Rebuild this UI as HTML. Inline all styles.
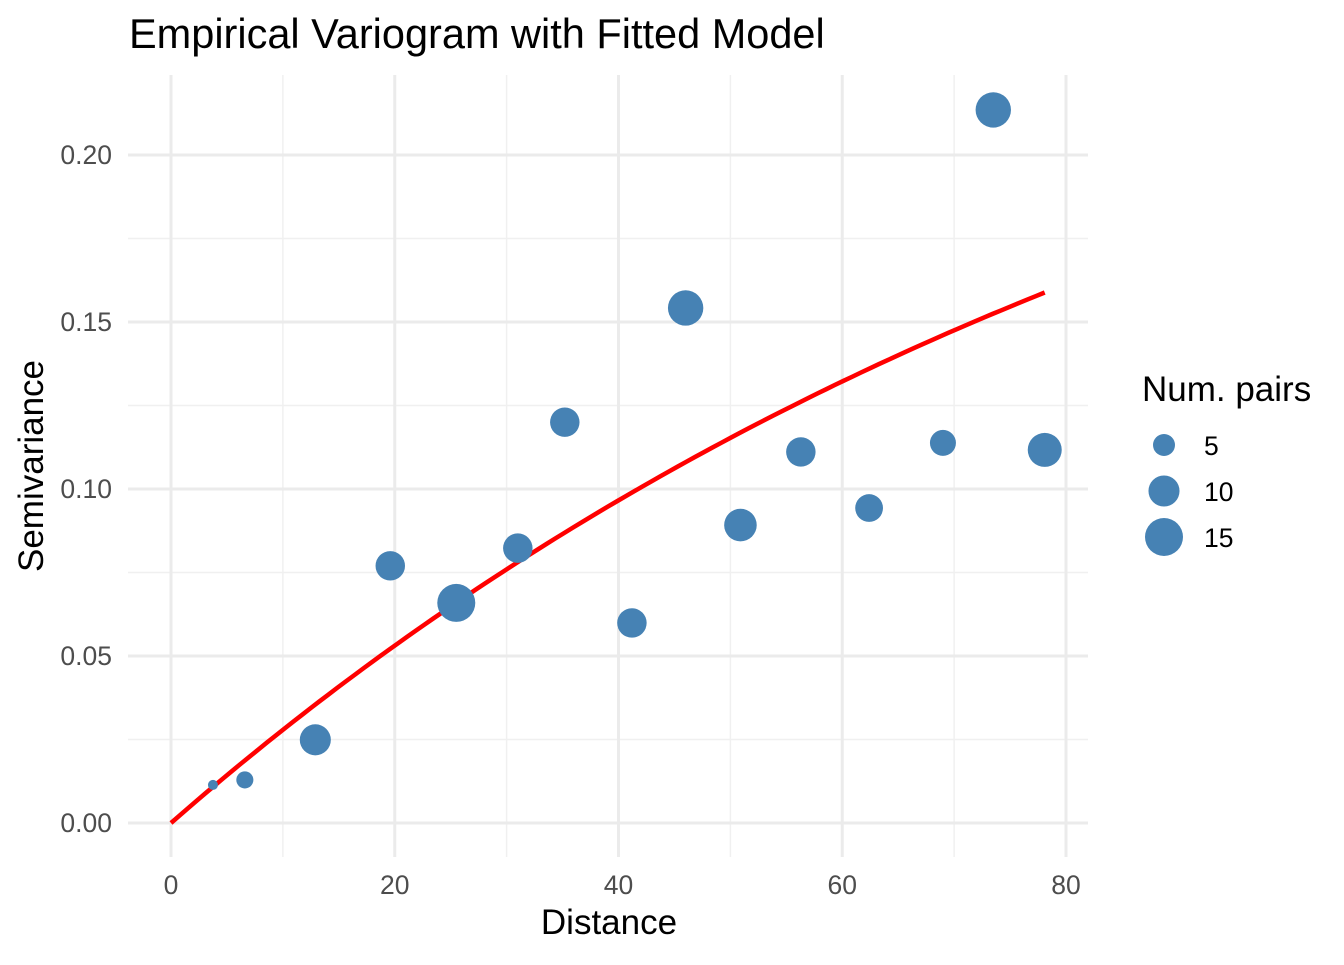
<!DOCTYPE html>
<html><head><meta charset="utf-8"><style>
body{margin:0;background:#fff;}
svg text{font-family:"Liberation Sans",sans-serif;}
</style></head><body>
<svg id="chart" width="1344" height="960" xmlns="http://www.w3.org/2000/svg">
<rect width="1344" height="960" fill="#fff"/>
<g id="grid"></g>
<g id="curve"></g>
<g id="points"></g>
<g id="axes"></g>
<text x="129" y="48" font-size="41.5" fill="#000">Empirical Variogram with Fitted Model</text>
<text x="609" y="934" font-size="35" text-anchor="middle" fill="#000">Distance</text>
<text transform="translate(43,466) rotate(-90)" font-size="35" text-anchor="middle" fill="#000">Semivariance</text>
<g>
<text x="1142" y="401" font-size="35" fill="#000">Num. pairs</text>
<g id="legend-items"></g>
</g>
</svg>
<script>
const distances=[3.75,6.6,12.9,19.6,25.5,31.0,35.2,41.2,46.0,50.9,56.3,62.4,69.0,73.5,78.1];
const gammas=[0.0114,0.0129,0.0249,0.0770,0.0659,0.0823,0.1200,0.0599,0.1542,0.0892,0.1111,0.0943,0.1138,0.2135,0.1117];
const npairs=[1,3,10,9,15,9,9,9,13,11,9,8,7,13,12];
const xTicks=[0,20,40,60,80];
const yTicks=[0,0.05,0.10,0.15,0.20];
const yTickLabels=["0.00","0.05","0.10","0.15","0.20"];
const legendSizes=[5,10,15];
const modelSill=0.293, modelRange=100, modelMax=78.1;

const NS="http://www.w3.org/2000/svg";
const X=v=>171+v*(1066-171)/80;
const Y=v=>823-v*(823-155)/0.2;
const R=n=>Math.sqrt(1+24*n);
function mk(t,a,p){const e=document.createElementNS(NS,t);for(const k in a)e.setAttribute(k,a[k]);p.appendChild(e);return e;}
const grid=document.getElementById('grid'),axes=document.getElementById('axes');
const L=128,Rr=1088,T=75,B=857;
for(let i=0;i<xTicks.length-1;i++){const l=mk('line',{x1:X((xTicks[i]+xTicks[i+1])/2),x2:X((xTicks[i]+xTicks[i+1])/2),y1:T,y2:B,stroke:'#f0f0f0','stroke-width':1.5},grid);
}
for(let i=0;i<yTicks.length-1;i++){const l=mk('line',{x1:L,x2:Rr,y1:Y((yTicks[i]+yTicks[i+1])/2),y2:Y((yTicks[i]+yTicks[i+1])/2),stroke:'#f0f0f0','stroke-width':1.5},grid);
}
xTicks.forEach(t=>{const l=mk('line',{x1:X(t),x2:X(t),y1:T,y2:B,stroke:'#ebebeb','stroke-width':3},grid);

const tx=mk('text',{x:X(t),y:894,'font-size':26.5,fill:'#4d4d4d','text-anchor':'middle'},axes);tx.textContent=t;
});
yTicks.forEach((t,i)=>{const l=mk('line',{x1:L,x2:Rr,y1:Y(t),y2:Y(t),stroke:'#ebebeb','stroke-width':3},grid);

const tx=mk('text',{x:112,y:Y(t)+9,'font-size':26.5,fill:'#4d4d4d','text-anchor':'end'},axes);tx.textContent=yTickLabels[i];
});
let d='';for(let i=0;i<=100;i++){const x=modelMax*i/100;const y=modelSill*(1-Math.exp(-x/modelRange));d+=(i?'L':'M')+X(x).toFixed(1)+','+Y(y).toFixed(1);}
const c=mk('path',{d:d,fill:'none',stroke:'#ff0000','stroke-width':4.5},document.getElementById('curve'));

const pg=document.getElementById('points');
distances.forEach((dv,i)=>{const p=mk('circle',{cx:X(dv),cy:Y(gammas[i]),r:R(npairs[i]),fill:'#4682b4'},pg);
});
const lg=document.getElementById('legend-items');
legendSizes.forEach((s,i)=>{const cy=445+i*46;
const p=mk('circle',{cx:1164,cy:cy,r:R(s),fill:'#4682b4'},lg);

const t=mk('text',{x:1204,y:cy+10,'font-size':26.5,fill:'#000'},lg);t.textContent=s;
});
</script>
</body></html>
